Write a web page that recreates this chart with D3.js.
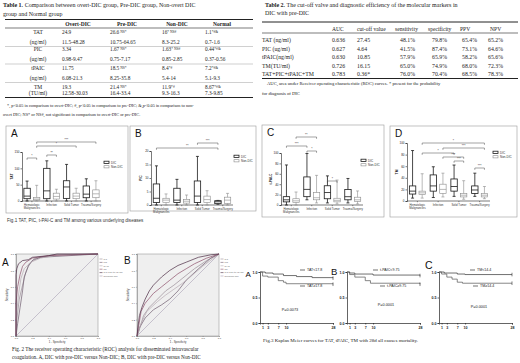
<!DOCTYPE html>
<html>
<head>
<meta charset="utf-8">
<script src="https://cdn.jsdelivr.net/npm/d3@7"></script>
<style>
body { margin: 0; background: #fff; }
svg { display: block; }
</style>
</head>
<body>
<script>
// ---------- data: Table 1 ----------
var t1Groups = ["Overt-DIC", "Pre-DIC", "Non-DIC", "Normal"];
var t1Markers = ["TAT", "PIC", "tPAIC", "TM"];
var t1Units = ["(ng/ml)", "(ug/ml)", "(ng/ml)", "(TU/ml)"];
var t1Median = [["24.9", "26.6", "16", "1.1"],
                ["3.34", "1.67", "1.63", "0.44"],
                ["11.75", "18.5", "8.4", "7.2"],
                ["19.3", "21.4", "11.9", "8.67"]];
var t1Sig = [["", " NS*", "* NS#", "*#&"],
             ["", " NS*", "* NS#", "*#&"],
             ["", " NS*", "*#", "*#&"],
             ["", " NS*", "*#", "*#&"]];
var t1Range = [["11.5-48.28", "10.75-64.65", "8.3-25.2", "0.7-1.6"],
               ["0.98-9.47", "0.75-7.17", "0.85-2.85", "0.37-0.56"],
               ["6.08-21.3", "8.25-35.8", "5.4-14", "5.1-9.3"],
               ["12.58-30.03", "16.4-33.4", "9.3-16.3", "7.3-9.85"]];
var t1Notes = ["*, p<0.05 in comparison to overt-DIC; #, p<0.05 in comparison to pre-DIC; &,p<0.05 in comparison to non-",
               "overt DIC; NS* or NS#, not significant in comparison to overt-DIC or pre-DIC."];

// ---------- data: Table 2 ----------
var t2Cols = ["AUC", "cut-off value", "sensitivity", "specificity", "PPV", "NPV"];
var t2Markers = ["TAT (ng/ml)", "PIC (ug/ml)", "tPAIC(ng/ml)", "TM(TU/ml)", "TAT+PIC+tPAIC+TM"];
var t2Auc = ["0.636", "0.627", "0.630", "0.726", "0.783"];
var t2Cutoff = ["27.45", "4.64", "10.85", "16.15", "0.36*"];
var t2Sens = ["48.1%", "41.5%", "57.9%", "65.0%", "76.0%"];
var t2Spec = ["79.8%", "87.4%", "65.9%", "74.9%", "70.4%"];
var t2Ppv = ["65.4%", "73.1%", "58.2%", "68.0%", "68.5%"];
var t2Npv = ["65.2%", "64.6%", "65.6%", "72.3%", "78.3%"];
var t2Notes = ["AUC, area under Receiver operating characteristic (ROC) curves. * present for the probability",
               "for diagnosis of DIC"];

// ---------- data: Fig 1 box plots [min, q1, median, q3, max] ----------
var diseases = ["Hematologic|Malignancies", "Infection", "Solid Tumor", "Trauma/Surgery"];
var series = ["DIC", "Non-DIC"];
var tatDIC = [[0, 7, 15, 39, 61], [0, 7, 31, 100, 123], [0, 8, 43, 62, 112], [0, 10, 21, 46, 68]];
var tatNon = [[0, 3, 6, 11, 48], [0, 6, 14, 24, 36], [0, 7, 15, 24, 39], [0, 10, 22, 34, 62]];
var picDIC = [[0, 0.9, 2.5, 7.8, 14.5], [0, 0.9, 1.8, 6.2, 9.5], [0, 0.9, 3.3, 8.9, 18], [0.3, 0.5, 1.2, 1.6, 1.7]];
var picNon = [[0, 0.9, 1.8, 2.5, 4.1], [0, 0.7, 1.4, 2.1, 3.7], [0, 0.9, 2, 3.3, 5.3], [0, 0.6, 1.8, 2.9, 4.3]];
var paiDIC = [[0, 6, 10, 16, 77], [10, 16, 30, 54, 99], [4, 12, 24, 37, 56], [4, 10, 16, 30, 51]];
var paiNon = [[0, 5, 8, 12, 25], [4, 10, 14, 24, 57], [2, 6, 9, 13, 48], [2, 7, 10, 15, 27]];
var tmDIC = [[5, 12, 17, 26, 87], [6, 17, 26, 45, 59], [8, 17, 25, 38, 62], [8, 13, 19, 26, 48]];
var tmNon = [[5, 11, 14, 17, 47], [7, 13, 20, 29, 48], [3, 7, 10, 13, 35], [4, 7, 10, 13, 25]];
var tatTicks = [0, 50, 100, 150];
var picTicks = [0, 5, 10, 15, 20];
var paiTicks = [0, 20, 40, 60, 80, 100];
var tmTicks = [0, 20, 40, 60, 80, 100];
// brackets: [group, series, group, series, label]
var tatBrackets = [[0, 0, 0, 1, "*"], [1, 0, 1, 1, "**"], [0, 1, 2, 1, "*"], [0, 1, 3, 1, "***"]];
var picBrackets = [[0, 0, 3, 0, "**"], [2, 0, 3, 0, "***"]];
var paiBrackets = [[0, 0, 1, 0, "***"], [0, 1, 1, 1, "**"], [1, 0, 1, 1, "*"], [2, 0, 2, 1, "*"]];
var tmBrackets = [[0, 1, 3, 1, "*"], [1, 1, 3, 1, "***"], [0, 1, 2, 0, "*"], [1, 1, 2, 1, "***"],
                  [2, 0, 2, 1, "***"], [3, 0, 3, 1, "***"]];

// ---------- data: Fig 2 ROC curves [1-specificity, sensitivity] ----------
var rocLabels = ["TAT", "PIC", "tPAIC", "TM", "TAT+PIC+tPAIC+TM", "Reference Line"];
var rocA_TAT = [[0, 0], [0.01, 0.2], [0.04, 0.45], [0.08, 0.62], [0.12, 0.78], [0.16, 0.88], [0.22, 0.94], [0.45, 0.99], [1, 1]];
var rocA_PIC = [[0, 0], [0.02, 0.15], [0.05, 0.35], [0.08, 0.55], [0.1, 0.72], [0.15, 0.85], [0.2, 0.92], [0.3, 0.96], [1, 1]];
var rocA_PAI = [[0, 0], [0, 0.2], [0.03, 0.5], [0.06, 0.7], [0.1, 0.82], [0.18, 0.9], [0.3, 0.95], [0.5, 0.99], [1, 1]];
var rocA_TM = [[0, 0], [0, 0.4], [0.02, 0.6], [0.05, 0.75], [0.08, 0.85], [0.12, 0.9], [0.2, 0.95], [0.4, 0.98], [1, 1]];
var rocA_ALL = [[0, 0], [0, 0.75], [0.01, 0.82], [0.03, 0.88], [0.08, 0.92], [0.15, 0.93], [0.2, 0.96], [0.4, 0.98], [0.5, 1], [1, 1]];
var rocB_TAT = [[0, 0], [0.02, 0.05], [0.08, 0.25], [0.15, 0.35], [0.25, 0.45], [0.35, 0.55], [0.45, 0.62], [0.55, 0.7], [0.7, 0.82], [0.85, 0.92], [1, 1]];
var rocB_PIC = [[0, 0], [0.03, 0.1], [0.1, 0.22], [0.2, 0.32], [0.3, 0.38], [0.4, 0.45], [0.5, 0.55], [0.6, 0.68], [0.75, 0.82], [0.9, 0.95], [1, 1]];
var rocB_PAI = [[0, 0], [0.05, 0.15], [0.12, 0.3], [0.25, 0.42], [0.35, 0.5], [0.45, 0.57], [0.55, 0.64], [0.65, 0.72], [0.8, 0.85], [1, 1]];
var rocB_TM = [[0, 0], [0.02, 0.12], [0.05, 0.3], [0.1, 0.4], [0.2, 0.52], [0.3, 0.6], [0.4, 0.68], [0.5, 0.76], [0.6, 0.82], [0.7, 0.88], [0.85, 0.95], [1, 1]];
var rocB_ALL = [[0, 0], [0.01, 0.1], [0.03, 0.25], [0.06, 0.35], [0.1, 0.45], [0.15, 0.55], [0.2, 0.62], [0.3, 0.72], [0.4, 0.8], [0.5, 0.86], [0.6, 0.9], [0.75, 0.96], [0.9, 0.99], [1, 1]];
var rocRef = [[0, 0], [1, 1]];
var rocTicks = [0, 0.2, 0.4, 0.6, 0.8, 1];

// ---------- data: Fig 3 Kaplan Meier [day, survival] ----------
var kmDays = [1, 3, 7, 10, 28];
var kmYTicks = [0, 0.5, 1];
var kmTatLow = [[0, 1], [2, 0.98], [5, 0.96], [9, 0.93], [14, 0.91], [20, 0.89], [28, 0.88]];
var kmTatHigh = [[0, 1], [1, 0.92], [3, 0.9], [7, 0.83], [9, 0.8], [10, 0.77], [28, 0.76]];
var kmPaiLow = [[0, 1], [1, 0.98], [3, 0.96], [10, 0.94], [28, 0.93]];
var kmPaiHigh = [[0, 1], [1, 0.95], [3, 0.9], [7, 0.83], [9, 0.78], [28, 0.76]];
var kmTmLow = [[0, 1], [2, 0.98], [7, 0.96], [10, 0.95], [28, 0.95]];
var kmTmHigh = [[0, 1], [1, 0.96], [3, 0.9], [5, 0.86], [7, 0.8], [9, 0.78], [28, 0.78]];
var kmLegend = [["TAT<17.8", "TAT≥17.8"], ["t-PAIC<9.75", "t-PAIC≥9.75"], ["TM<14.4", "TM≥14.4"]];
var kmP = ["P=0.0073", "P=0.0001", "P=0.0001"];

// ---------- drawing ----------
var serif = "'Liberation Serif', 'Times New Roman', serif";
var sans = "'Liberation Sans', Arial, sans-serif";
var svg = d3.select("body").append("svg").attr("width", 520).attr("height", 363);

function txt(x, y, s, size, font, anchor, color) {
    return svg.append("text")
        .attr("x", x).attr("y", y)
        .attr("font-family", font || serif)
        .attr("font-size", size)
        .attr("text-anchor", anchor || "start")
        .attr("fill", color || "#222")
        .text(s);
}
function hline(x1, x2, y, w, c) {
    svg.append("line").attr("x1", x1).attr("x2", x2).attr("y1", y).attr("y2", y)
        .attr("stroke", c || "#222").attr("stroke-width", w);
}

// Table 1
var t1 = txt(3, 6.5, "", 6);
t1.append("tspan").attr("font-weight", "bold").text("Table 1.");
t1.append("tspan").text(" Comparison between overt-DIC group, Pre-DIC group, Non-overt DIC");
txt(3, 15.5, "group and Normal group", 6);
hline(5, 253, 19.5, 1);
hline(5, 253, 28, 0.6);
var t1HeadX = [78, 127, 177, 222];
var t1ValX = [62, 110, 162, 205];
t1Groups.forEach(function(g, i) { txt(t1HeadX[i], 25.5, g, 5.5, serif, "middle").attr("font-weight", "bold"); });
var t1RowY = [34, 51, 70, 88.5];
var t1UnitY = [44, 61, 80, 95];
t1Markers.forEach(function(m, r) {
    txt(38, t1RowY[r], m, 5.5, serif, "middle");
    txt(38, t1UnitY[r], t1Units[r], 5.5, serif, "middle");
    t1Groups.forEach(function(g, c) {
        var t = txt(t1ValX[c], t1RowY[r], t1Median[r][c], 5.3);
        t.append("tspan").attr("font-size", 3.6).attr("dy", -1).text(t1Sig[r][c]);
        txt(t1ValX[c], t1UnitY[r], t1Range[r][c], 5.3);
    });
});
[46.5, 64, 82.5].forEach(function(y) { hline(5, 253, y, 0.35, "#777"); });
hline(5, 253, 97.5, 1);
txt(7, 106.5, t1Notes[0], 4.3);
txt(3, 115.5, t1Notes[1], 4.3);

// Table 2
var t2 = txt(265, 6.5, "", 6);
t2.append("tspan").attr("font-weight", "bold").text("Table 2.");
t2.append("tspan").text(" The cut-off valve and diagnostic efficiency of the molecular markers in");
txt(265, 15, "DIC with pre-DIC", 6);
hline(262, 518, 22, 1);
hline(262, 518, 33, 0.6);
var t2HeadX = [332, 357, 395, 428, 460, 490];
var t2ValX = [332, 357, 400, 432, 462, 488];
t2Cols.forEach(function(c, i) { txt(t2HeadX[i], 31, c, 5.6); });
var t2Cells = [t2Auc, t2Cutoff, t2Sens, t2Spec, t2Ppv, t2Npv];
var t2RowY = [42, 50.5, 59, 67.5, 76];
t2Markers.forEach(function(m, r) {
    txt(262, t2RowY[r], m, 5.8);
    t2Cells.forEach(function(col, c) { txt(t2ValX[c], t2RowY[r], col[r], 5.8); });
});
hline(262, 518, 78.5, 1);
txt(267, 85, t2Notes[0], 4.6);
txt(262, 94.5, t2Notes[1], 4.6);

// Fig 1 box plot panels
function boxPanel(p) {
    var f = p.frame;
    svg.append("rect").attr("x", f[0]).attr("y", f[1]).attr("width", f[2]).attr("height", f[3])
        .attr("fill", "none").attr("stroke", "#9a9a9a").attr("stroke-width", 0.6);
    txt(f[0] + 5, f[1] + 11, p.letter, 10, sans, "start", "#111");
    var y = d3.scaleLinear().domain([0, p.ticks[p.ticks.length - 1]]).range(p.yr);
    var band = d3.scaleBand().domain(d3.range(diseases.length)).range([p.ax, p.xr]);
    var bx = function(g, s) { return band(g) + band.bandwidth() / 2 + (s === 0 ? -4.8 : 4.8); };
    var g = svg.append("g");
    var axis = g.append("g").attr("transform", "translate(" + p.ax + ",0)")
        .call(d3.axisLeft(y).tickValues(p.ticks).tickSize(1.5).tickPadding(1));
    axis.selectAll("text").attr("font-size", 3).attr("font-family", sans).attr("fill", "#222");
    axis.selectAll("line,path").attr("stroke", "#222").attr("stroke-width", 0.6);
    g.append("line").attr("x1", p.ax).attr("x2", p.xr).attr("y1", y(0)).attr("y2", y(0))
        .attr("stroke", "#222").attr("stroke-width", 0.6);
    g.append("text").attr("transform", "translate(" + (p.ax - 9) + "," + ((p.yr[0] + p.yr[1]) / 2) + ") rotate(-90)")
        .attr("text-anchor", "middle").attr("font-size", 3.3).attr("font-family", sans).attr("font-weight", "bold")
        .attr("fill", "#222").text(p.name);
    diseases.forEach(function(d, i) {
        var cx = band(i) + band.bandwidth() / 2;
        g.append("line").attr("x1", cx).attr("x2", cx).attr("y1", y(0)).attr("y2", y(0) + 1.2)
            .attr("stroke", "#222").attr("stroke-width", 0.5);
        d.split("|").forEach(function(part, k) {
            g.append("text").attr("x", cx).attr("y", y(0) + 4.5 + k * 3.3).attr("text-anchor", "middle")
                .attr("font-size", 2.8).attr("font-family", sans).attr("fill", "#333").text(part);
        });
    });
    [p.dic, p.non].forEach(function(stats, s) {
        var col = s === 0 ? "#1a1a1a" : "#8a8a8a";
        var sw = s === 0 ? 0.8 : 0.6;
        stats.forEach(function(st, i) {
            var cx = bx(i, s);
            g.append("line").attr("x1", cx).attr("x2", cx).attr("y1", y(st[0])).attr("y2", y(st[4]))
                .attr("stroke", col).attr("stroke-width", sw);
            [st[0], st[4]].forEach(function(v) {
                g.append("line").attr("x1", cx - 1.5).attr("x2", cx + 1.5).attr("y1", y(v)).attr("y2", y(v))
                    .attr("stroke", col).attr("stroke-width", sw);
            });
            g.append("rect").attr("x", cx - 3.2).attr("y", y(st[3])).attr("width", 6.4)
                .attr("height", Math.max(0.5, y(st[1]) - y(st[3])))
                .attr("fill", "#fff").attr("stroke", col).attr("stroke-width", sw);
            g.append("line").attr("x1", cx - 3.2).attr("x2", cx + 3.2).attr("y1", y(st[2])).attr("y2", y(st[2]))
                .attr("stroke", col).attr("stroke-width", sw);
        });
    });
    p.br.forEach(function(b, k) {
        var x1 = bx(b[0], b[1]), x2 = bx(b[2], b[3]), by = p.brY[k];
        g.append("path").attr("d", "M" + x1 + "," + (by + 1.8) + "V" + by + "H" + x2 + "V" + (by + 1.8))
            .attr("fill", "none").attr("stroke", "#444").attr("stroke-width", 0.5);
        g.append("text").attr("x", (x1 + x2) / 2).attr("y", by - 0.6).attr("text-anchor", "middle")
            .attr("font-size", 3.2).attr("font-family", sans).attr("fill", "#333").text(b[4]);
    });
    series.forEach(function(sname, s) {
        var ly = p.leg[1] + s * 4.5;
        g.append("rect").attr("x", p.leg[0]).attr("y", ly - 1.8).attr("width", 5).attr("height", 2.2)
            .attr("fill", "#fff").attr("stroke", s === 0 ? "#1a1a1a" : "#8a8a8a").attr("stroke-width", s === 0 ? 0.8 : 0.6);
        g.append("text").attr("x", p.leg[0] + 7).attr("y", ly + 0.6).attr("font-size", 3)
            .attr("font-family", sans).attr("fill", "#333").text(sname);
    });
}

boxPanel({letter: "A", name: "TAT", dic: tatDIC, non: tatNon, ticks: tatTicks, br: tatBrackets,
    brY: [158, 155, 146, 142], frame: [6, 126, 122, 87], ax: 22, xr: 101, yr: [201, 152], leg: [104, 163]});
boxPanel({letter: "B", name: "PIC", dic: picDIC, non: picNon, ticks: picTicks, br: picBrackets,
    brY: [148, 143], frame: [130, 126, 126, 85], ax: 151, xr: 233, yr: [205, 151], leg: [234, 157]});
boxPanel({letter: "C", name: "t-PAI-C", dic: paiDIC, non: paiNon, ticks: paiTicks, br: paiBrackets,
    brY: [146, 137, 151, 181], frame: [262, 125, 122, 92], ax: 281, xr: 363, yr: [205, 153], leg: [361, 161]});
boxPanel({letter: "D", name: "TM", dic: tmDIC, non: tmNon, ticks: tmTicks, br: tmBrackets,
    brY: [143, 148, 153, 157, 161, 168], frame: [390, 126, 127, 91], ax: 407, xr: 490, yr: [201, 143], leg: [493, 153]});

txt(7, 221.5, "Fig.1 TAT, PIC, t-PAI-C and TM among various underlying diseases", 4.6, sans, "start", "#333");

// Fig 2 ROC panels
var rocColors = ["#9a8d97", "#6f5b6e", "#b6a9b2", "#8c4f6a", "#4a2a42", "#a8a0b4"];
function rocPanel(p) {
    var x = d3.scaleLinear().domain([0, 1]).range([p.x0, p.x1]);
    var y = d3.scaleLinear().domain([0, 1]).range([p.y1, p.y0]);
    txt(p.lx, p.ly, p.letter, 10, sans, "start", "#111");
    svg.append("rect").attr("x", p.x0).attr("y", p.y0).attr("width", p.x1 - p.x0).attr("height", p.y1 - p.y0)
        .attr("fill", "#efefef").attr("stroke", "#888").attr("stroke-width", 0.5);
    var g = svg.append("g");
    var ax1 = g.append("g").attr("transform", "translate(" + p.x0 + ",0)")
        .call(d3.axisLeft(y).tickValues(rocTicks).tickFormat(d3.format(".1f")).tickSize(1).tickPadding(1));
    var ax2 = g.append("g").attr("transform", "translate(0," + p.y1 + ")")
        .call(d3.axisBottom(x).tickValues(rocTicks).tickFormat(d3.format(".1f")).tickSize(1).tickPadding(0.5));
    [ax1, ax2].forEach(function(a) {
        a.selectAll("text").attr("font-size", 2.4).attr("font-family", sans).attr("fill", "#333");
        a.selectAll("line,path").attr("stroke", "#666").attr("stroke-width", 0.4);
    });
    g.append("text").attr("transform", "translate(" + (p.x0 - 8) + "," + ((p.y0 + p.y1) / 2) + ") rotate(-90)")
        .attr("text-anchor", "middle").attr("font-size", 2.8).attr("font-family", sans).attr("fill", "#333").text("Sensitivity");
    g.append("text").attr("x", (p.x0 + p.x1) / 2).attr("y", p.y1 + 7).attr("text-anchor", "middle")
        .attr("font-size", 2.8).attr("font-family", sans).attr("fill", "#333").text("1 - Specificity");
    var line = d3.line().x(function(d) { return x(d[0]); }).y(function(d) { return y(d[1]); });
    g.append("path").attr("d", line(rocRef)).attr("fill", "none").attr("stroke", rocColors[5]).attr("stroke-width", 0.6);
    p.curves.forEach(function(c, i) {
        g.append("path").attr("d", line(c)).attr("fill", "none").attr("stroke", rocColors[i]).attr("stroke-width", 0.7);
    });
    rocLabels.forEach(function(l, i) {
        var ly = p.y0 + 5 + i * 3.4;
        g.append("line").attr("x1", p.x1 + 1.5).attr("x2", p.x1 + 4.5).attr("y1", ly).attr("y2", ly)
            .attr("stroke", rocColors[i]).attr("stroke-width", 0.6);
        g.append("text").attr("x", p.x1 + 5.5).attr("y", ly + 0.8).attr("font-size", 2.1)
            .attr("font-family", sans).attr("fill", "#555").text(l);
    });
}
rocPanel({letter: "A", lx: 2, ly: 266, x0: 16, x1: 98, y0: 254, y1: 336,
    curves: [rocA_TAT, rocA_PIC, rocA_PAI, rocA_TM, rocA_ALL]});
rocPanel({letter: "B", lx: 124, ly: 264, x0: 137, x1: 219, y0: 254, y1: 336,
    curves: [rocB_TAT, rocB_PIC, rocB_PAI, rocB_TM, rocB_ALL]});
txt(12, 351, "Fig. 2 The receiver operating characteristic (ROC) analysis for disseminated intravascular", 5.2);
txt(12, 359, "coagulation. A, DIC with pre-DIC versus Non-DIC; B, DIC with pre-DIC versus Non-DIC", 5.2);

// Fig 3 Kaplan Meier panels
function kmPanel(p) {
    var x = d3.scaleLinear().domain([0, 28]).range([p.ax, p.ax + 73]);
    var y = d3.scaleLinear().domain([0, 1]).range([323, 272]);
    txt(p.lx, p.ly, p.letter, p.ls, sans, "start", "#111");
    var g = svg.append("g");
    var ay = g.append("g").attr("transform", "translate(" + p.ax + ",0)")
        .call(d3.axisLeft(y).tickValues(kmYTicks).tickFormat(d3.format(".1f")).tickSize(1.5).tickPadding(1));
    var axx = g.append("g").attr("transform", "translate(0,323)")
        .call(d3.axisBottom(x).tickValues(kmDays).tickSize(1.5).tickPadding(2));
    [ay, axx].forEach(function(a) {
        a.selectAll("text").attr("font-size", 3.6).attr("font-family", sans).attr("font-weight", "bold").attr("fill", "#222");
        a.selectAll("line,path").attr("stroke", "#222").attr("stroke-width", 0.7);
    });
    var line = d3.line().curve(d3.curveStepAfter).x(function(d) { return x(d[0]); }).y(function(d) { return y(d[1]); });
    [p.low, p.high].forEach(function(c, i) {
        g.append("path").attr("d", line(c)).attr("fill", "none").attr("stroke", i === 0 ? "#333" : "#555").attr("stroke-width", 0.7);
        var last = c[c.length - 1];
        g.append("line").attr("x1", x(last[0])).attr("x2", x(last[0])).attr("y1", y(last[1]) - 1.8).attr("y2", y(last[1]) + 1.8)
            .attr("stroke", "#333").attr("stroke-width", 0.6);
    });
    p.legend.forEach(function(l, i) {
        var ly = i === 0 ? 270 : 286;
        g.append("line").attr("x1", p.legX[i] - 7).attr("x2", p.legX[i] - 2).attr("y1", ly).attr("y2", ly)
            .attr("stroke", "#333").attr("stroke-width", 0.7);
        g.append("text").attr("x", p.legX[i]).attr("y", ly + 1.2).attr("font-size", 3.6)
            .attr("font-family", sans).attr("fill", "#222").text(l);
    });
    g.append("text").attr("x", p.pX).attr("y", p.pY).attr("text-anchor", "middle").attr("font-size", 3.8)
        .attr("font-family", sans).attr("fill", "#222").text(p.p);
}
kmPanel({letter: "A", lx: 245.5, ly: 277, ls: 8, ax: 260, low: kmTatLow, high: kmTatHigh, legend: kmLegend[0],
    legX: [307, 307], p: kmP[0], pX: 290, pY: 311});
kmPanel({letter: "B", lx: 331, ly: 275, ls: 9.5, ax: 347, low: kmPaiLow, high: kmPaiHigh, legend: kmLegend[1],
    legX: [380, 387], p: kmP[1], pX: 386, pY: 306});
kmPanel({letter: "C", lx: 425, ly: 269, ls: 10.5, ax: 439, low: kmTmLow, high: kmTmHigh, legend: kmLegend[2],
    legX: [477, 480], p: kmP[2], pX: 479, pY: 308});
txt(263, 341.5, "Fig.3  Kaplan Meier curves for TAT, tPAIC, TM with 28d all causes mortality.", 5);
</script>
</body>
</html>
